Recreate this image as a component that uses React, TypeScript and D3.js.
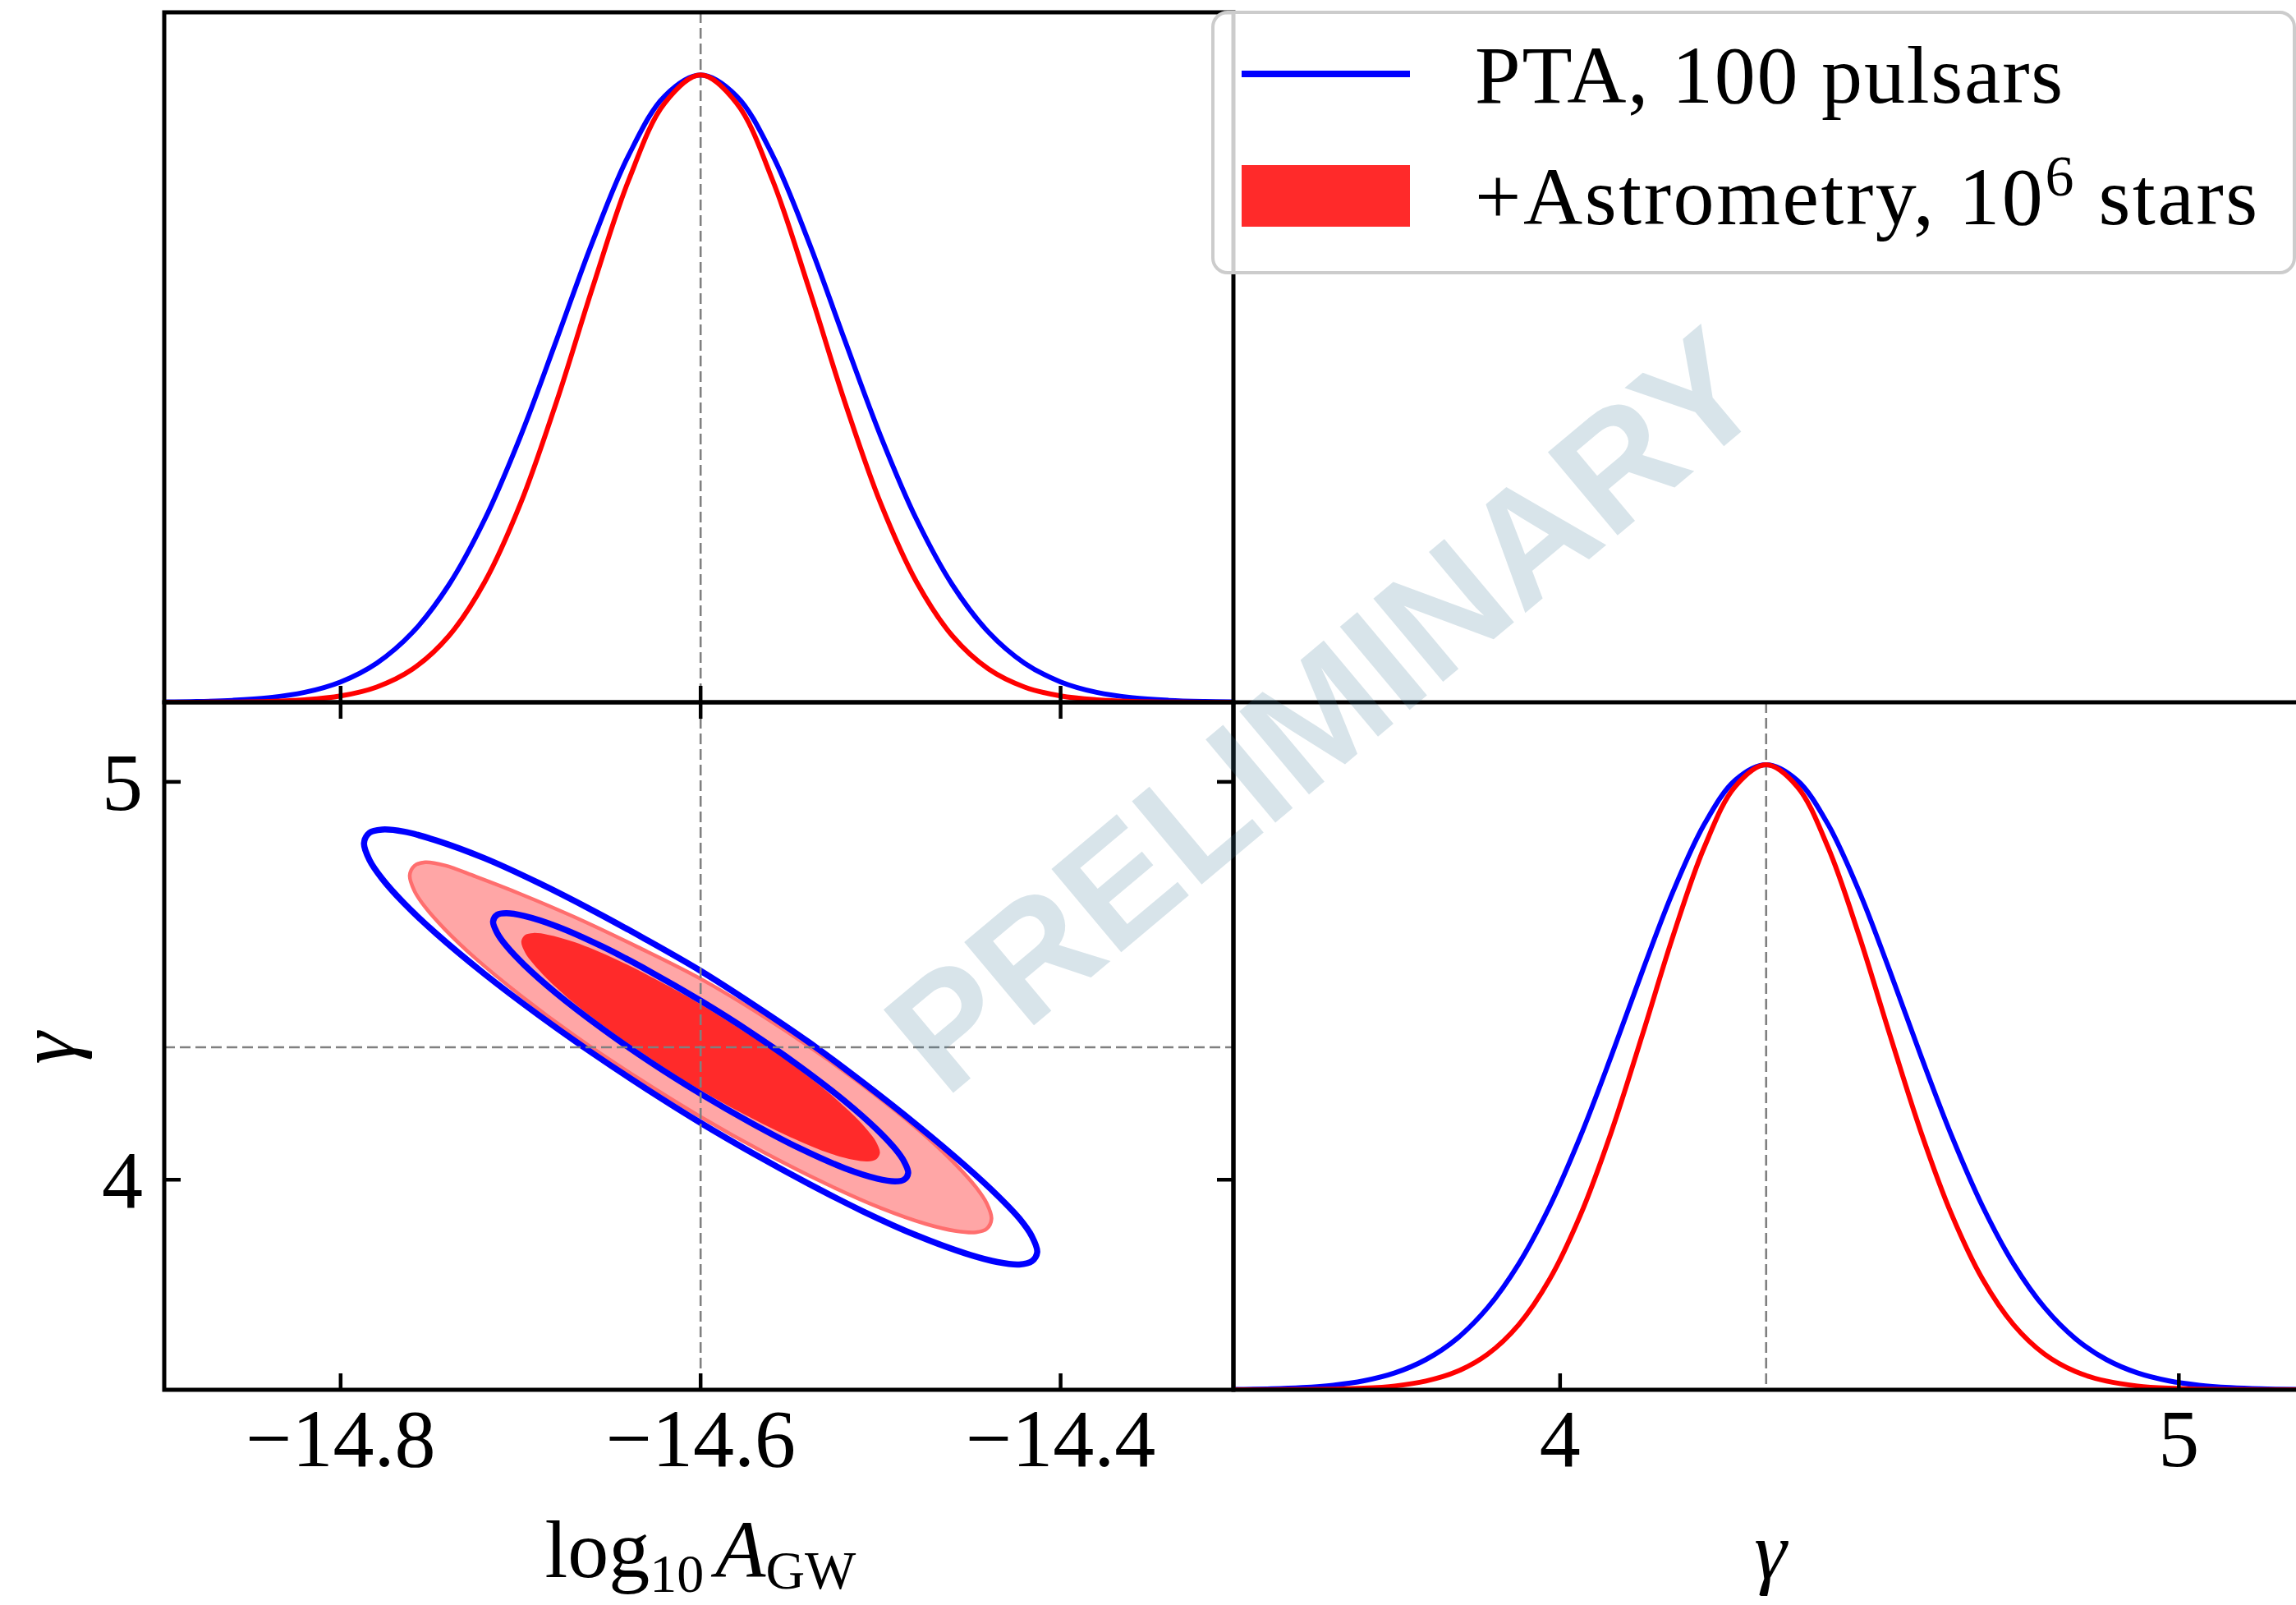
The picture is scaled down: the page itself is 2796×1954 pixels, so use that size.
import React from "react";
import * as d3 from "d3";

// ---------- data ----------
const logAExtent: [number, number] = [-14.898, -14.304];
const gammaExtent: [number, number] = [3.472, 5.2];
const densityExtent: [number, number] = [0, 1.1];
const logATicks = [-14.8, -14.6, -14.4];
const gammaTicks = [4, 5];
const truthLogA = -14.6;
const truthGamma = 4.333;
const legendPTA = "PTA, 100 pulsars";
const legendAstro = ["+Astrometry, 10", "6", " stars"];
const watermark = "PRELIMINARY";

// 1D marginal of log10 A_GW: [value, normalised density]
const ptaLogA: [number, number][] = [
  [-14.898, 0.0005], [-14.88, 0.0012], [-14.86, 0.0031], [-14.84, 0.0072], [-14.82, 0.0158],
  [-14.8, 0.0325], [-14.78, 0.0623], [-14.76, 0.1116], [-14.74, 0.1866], [-14.72, 0.2913],
  [-14.7, 0.4246], [-14.68, 0.578], [-14.66, 0.7346], [-14.64, 0.872], [-14.62, 0.9663],
  [-14.6, 1.0],
  [-14.58, 0.9663], [-14.56, 0.872], [-14.54, 0.7346], [-14.52, 0.578], [-14.5, 0.4246],
  [-14.48, 0.2913], [-14.46, 0.1866], [-14.44, 0.1116], [-14.42, 0.0623], [-14.4, 0.0325],
  [-14.38, 0.0158], [-14.36, 0.0072], [-14.34, 0.0031], [-14.32, 0.0012], [-14.304, 0.0005],
];
const astroLogA: [number, number][] = [
  [-14.898, 0.0], [-14.88, 0.0001], [-14.86, 0.0004], [-14.84, 0.0013], [-14.82, 0.0039],
  [-14.8, 0.0101], [-14.78, 0.0243], [-14.76, 0.053], [-14.74, 0.1054], [-14.72, 0.1915],
  [-14.7, 0.3173], [-14.68, 0.4797], [-14.66, 0.6615], [-14.64, 0.8322], [-14.62, 0.9551],
  [-14.6, 1.0],
  [-14.58, 0.9551], [-14.56, 0.8322], [-14.54, 0.6615], [-14.52, 0.4797], [-14.5, 0.3173],
  [-14.48, 0.1915], [-14.46, 0.1054], [-14.44, 0.053], [-14.42, 0.0243], [-14.4, 0.0101],
  [-14.38, 0.0039], [-14.36, 0.0013], [-14.34, 0.0004], [-14.32, 0.0001], [-14.304, 0.0],
];
// 1D marginal of gamma
const ptaGamma: [number, number][] = [
  [3.472, 0.0006], [3.533, 0.0016], [3.583, 0.0036], [3.633, 0.0074], [3.683, 0.0145],
  [3.733, 0.0271], [3.783, 0.0483], [3.833, 0.0817], [3.883, 0.1315], [3.933, 0.2013],
  [3.983, 0.2931], [4.033, 0.4059], [4.083, 0.5347], [4.133, 0.6698], [4.183, 0.7982],
  [4.233, 0.9047], [4.283, 0.9753], [4.333, 1.0],
  [4.383, 0.9753], [4.433, 0.9047], [4.483, 0.7982], [4.533, 0.6698], [4.583, 0.5347],
  [4.633, 0.4059], [4.683, 0.2931], [4.733, 0.2013], [4.783, 0.1315], [4.833, 0.0817],
  [4.883, 0.0483], [4.933, 0.0271], [4.983, 0.0145], [5.033, 0.0074], [5.083, 0.0036],
  [5.133, 0.0016], [5.2, 0.0005],
];
const astroGamma: [number, number][] = [
  [3.472, 0.0], [3.533, 0.0001], [3.583, 0.0004], [3.633, 0.001], [3.683, 0.0025],
  [3.733, 0.0061], [3.783, 0.0139], [3.833, 0.0291], [3.883, 0.057], [3.933, 0.104],
  [3.983, 0.1767], [4.033, 0.28], [4.083, 0.4131], [4.133, 0.5679], [4.183, 0.7274],
  [4.233, 0.868], [4.283, 0.9653], [4.333, 1.0],
  [4.383, 0.9653], [4.433, 0.868], [4.483, 0.7274], [4.533, 0.5679], [4.583, 0.4131],
  [4.633, 0.28], [4.683, 0.1767], [4.733, 0.104], [4.783, 0.057], [4.833, 0.0291],
  [4.883, 0.0139], [4.933, 0.0061], [4.983, 0.0025], [5.033, 0.001], [5.083, 0.0004],
  [5.133, 0.0001], [5.2, 0.0],
];

// 2D contours: [log10 A_GW, gamma]
const ptaOuter: [number, number][] = [
  [-14.787, 4.846], [-14.784, 4.872], [-14.777, 4.88], [-14.765, 4.875], [-14.747, 4.853],
  [-14.72, 4.808], [-14.69, 4.746], [-14.66, 4.677], [-14.63, 4.603], [-14.6, 4.525],
  [-14.57, 4.438], [-14.54, 4.346], [-14.51, 4.245], [-14.48, 4.138], [-14.453, 4.035],
  [-14.435, 3.96], [-14.423, 3.903], [-14.416, 3.858], [-14.413, 3.818],
  [-14.416, 3.795], [-14.423, 3.787], [-14.435, 3.793], [-14.453, 3.815], [-14.48, 3.86],
  [-14.51, 3.921], [-14.54, 3.99], [-14.57, 4.064], [-14.6, 4.143], [-14.63, 4.228],
  [-14.66, 4.318], [-14.69, 4.414], [-14.72, 4.517], [-14.747, 4.619], [-14.765, 4.696],
  [-14.777, 4.757], [-14.784, 4.804],
];
const ptaInner: [number, number][] = [
  [-14.7153, 4.649], [-14.713, 4.666], [-14.708, 4.67], [-14.698, 4.663], [-14.68, 4.637],
  [-14.655, 4.587], [-14.628, 4.523], [-14.6, 4.45], [-14.572, 4.37], [-14.545, 4.285],
  [-14.52, 4.198], [-14.502, 4.126], [-14.492, 4.078], [-14.487, 4.046], [-14.4847, 4.017],
  [-14.487, 4.0], [-14.492, 3.996], [-14.502, 4.003], [-14.52, 4.029], [-14.545, 4.079],
  [-14.572, 4.143], [-14.6, 4.216], [-14.628, 4.296], [-14.655, 4.381], [-14.68, 4.468],
  [-14.698, 4.54], [-14.708, 4.588], [-14.713, 4.62],
];
const astroOuter: [number, number][] = [
  [-14.7616, 4.765], [-14.759, 4.789], [-14.753, 4.798], [-14.742, 4.79], [-14.725, 4.762],
  [-14.7, 4.718], [-14.67, 4.66], [-14.635, 4.585], [-14.6, 4.505], [-14.565, 4.41],
  [-14.53, 4.304], [-14.5, 4.203], [-14.475, 4.11], [-14.458, 4.037], [-14.447, 3.981],
  [-14.441, 3.94], [-14.4384, 3.902], [-14.441, 3.877], [-14.447, 3.868], [-14.458, 3.871],
  [-14.475, 3.889], [-14.5, 3.929], [-14.53, 3.989], [-14.565, 4.069], [-14.6, 4.158],
  [-14.635, 4.256], [-14.67, 4.362], [-14.7, 4.463], [-14.725, 4.556], [-14.742, 4.629],
  [-14.753, 4.685], [-14.759, 4.726],
];
const astroInner: [number, number][] = [
  [-14.6996, 4.599], [-14.6975, 4.615], [-14.693, 4.62], [-14.685, 4.616], [-14.67, 4.597],
  [-14.647, 4.554], [-14.623, 4.499], [-14.6, 4.441], [-14.577, 4.376], [-14.553, 4.303],
  [-14.53, 4.223], [-14.515, 4.162], [-14.507, 4.123], [-14.5025, 4.095], [-14.5004, 4.067],
  [-14.5025, 4.051], [-14.507, 4.046], [-14.515, 4.05], [-14.53, 4.069], [-14.553, 4.113],
  [-14.577, 4.167], [-14.6, 4.225], [-14.623, 4.29], [-14.647, 4.364], [-14.67, 4.443],
  [-14.685, 4.504], [-14.693, 4.543], [-14.6975, 4.571],
];

// ---------- layout ----------
const W = 2796;
const H = 1954;
const L = 200, M = 1502, R = 2804, T = 15, MID = 855, B = 1692;
const BLUE = "#0000ff";
const RED = "#ff0000";
const RED_DARK = "#ff2a2a";
const RED_LIGHT = "#ffa6a6";
const RED_EDGE = "#ff6e6e";
const SERIF = "'Liberation Serif', 'Times New Roman', serif";
const TICK = 20;

const xA = d3.scaleLinear().domain(logAExtent).range([L, M]);
const xG = d3.scaleLinear().domain(gammaExtent).range([M, R]);
const yG = d3.scaleLinear().domain(gammaExtent).range([B, MID]);
const yTop = d3.scaleLinear().domain(densityExtent).range([MID, T]);
const yBot = d3.scaleLinear().domain(densityExtent).range([B, MID]);

const lineTop = d3
  .line<[number, number]>()
  .x((d) => xA(d[0]))
  .y((d) => yTop(d[1]))
  .curve(d3.curveCatmullRom.alpha(0.5));
const lineBot = d3
  .line<[number, number]>()
  .x((d) => xG(d[0]))
  .y((d) => yBot(d[1]))
  .curve(d3.curveCatmullRom.alpha(0.5));
const contour = d3
  .line<[number, number]>()
  .x((d) => xA(d[0]))
  .y((d) => yG(d[1]))
  .curve(d3.curveCatmullRomClosed.alpha(0.5));

const fmt = (v: number) => (v < 0 ? "\u2212" + Math.abs(v).toFixed(1) : String(v));

export default function App() {
  const dash = { stroke: "#808080", strokeWidth: 2.6, strokeDasharray: "13 6", fill: "none" };
  const spine = { stroke: "#000", strokeWidth: 5, fill: "none" };
  const tick = { stroke: "#000", strokeWidth: 4.5 };
  return (
    <svg
      width={W}
      height={H}
      viewBox={`0 0 ${W} ${H}`}
      style={{ position: "absolute", left: 0, top: 0, background: "#fff" }}
    >
      <defs>
        <clipPath id="clipTL">
          <rect x={L} y={T} width={M - L} height={MID - T} />
        </clipPath>
        <clipPath id="clipBL">
          <rect x={L} y={MID} width={M - L} height={B - MID} />
        </clipPath>
        <clipPath id="clipBR">
          <rect x={M} y={MID} width={R - M} height={B - MID} />
        </clipPath>
      </defs>
      <rect x={0} y={0} width={W} height={H} fill="#fff" />

      {/* ---------- top-left: log10 A marginal ---------- */}
      <g clipPath="url(#clipTL)">
        <line x1={xA(truthLogA)} x2={xA(truthLogA)} y1={T} y2={MID} {...dash} />
        <path d={lineTop(ptaLogA) || ""} fill="none" stroke={BLUE} strokeWidth={6} />
        <path d={lineTop(astroLogA) || ""} fill="none" stroke={RED} strokeWidth={6} />
      </g>
      {logATicks.map((t) => (
        <line key={"tlb" + t} x1={xA(t)} x2={xA(t)} y1={MID} y2={MID - TICK} {...tick} />
      ))}
      <rect x={L} y={T} width={M - L} height={MID - T} {...spine} />

      {/* ---------- bottom-left: 2D contours ---------- */}
      <g clipPath="url(#clipBL)">
        <path d={contour(astroOuter) || ""} fill={RED_LIGHT} stroke={RED_EDGE} strokeWidth={4.5} />
        <path d={contour(astroInner) || ""} fill={RED_DARK} stroke="none" />
        <path d={contour(ptaOuter) || ""} fill="none" stroke={BLUE} strokeWidth={7.5} />
        <path d={contour(ptaInner) || ""} fill="none" stroke={BLUE} strokeWidth={7.5} />
        <line x1={xA(truthLogA)} x2={xA(truthLogA)} y1={MID} y2={B} {...dash} />
        <line x1={L} x2={M} y1={yG(truthGamma)} y2={yG(truthGamma)} {...dash} />
      </g>
      {logATicks.map((t) => (
        <g key={"blx" + t}>
          <line x1={xA(t)} x2={xA(t)} y1={B} y2={B - TICK} {...tick} />
          <line x1={xA(t)} x2={xA(t)} y1={MID} y2={MID + TICK} {...tick} />
          <text
            x={xA(t)}
            y={1785}
            textAnchor="middle"
            fontFamily={SERIF}
            fontSize={100}
            fill="#000"
          >
            {fmt(t)}
          </text>
        </g>
      ))}
      {gammaTicks.map((t) => (
        <g key={"bly" + t}>
          <line x1={L} x2={L + TICK} y1={yG(t)} y2={yG(t)} {...tick} />
          <line x1={M} x2={M - TICK} y1={yG(t)} y2={yG(t)} {...tick} />
          <text
            x={174}
            y={yG(t) + 34}
            textAnchor="end"
            fontFamily={SERIF}
            fontSize={100}
            fill="#000"
          >
            {fmt(t)}
          </text>
        </g>
      ))}
      <rect x={L} y={MID} width={M - L} height={B - MID} {...spine} />

      {/* ---------- bottom-right: gamma marginal ---------- */}
      <g clipPath="url(#clipBR)">
        <line x1={xG(truthGamma)} x2={xG(truthGamma)} y1={MID} y2={B} {...dash} />
        <path d={lineBot(ptaGamma) || ""} fill="none" stroke={BLUE} strokeWidth={6} />
        <path d={lineBot(astroGamma) || ""} fill="none" stroke={RED} strokeWidth={6} />
      </g>
      {gammaTicks.map((t) => (
        <g key={"brx" + t}>
          <line x1={xG(t)} x2={xG(t)} y1={B} y2={B - TICK} {...tick} />
          <text
            x={xG(t)}
            y={1785}
            textAnchor="middle"
            fontFamily={SERIF}
            fontSize={100}
            fill="#000"
          >
            {fmt(t)}
          </text>
        </g>
      ))}
      <rect x={M} y={MID} width={R - M} height={B - MID} {...spine} />

      {/* ---------- axis labels ---------- */}
      <text x={853} y={1920} textAnchor="middle" fontFamily={SERIF} fontSize={100} fill="#000">
        <tspan>log</tspan>
        <tspan fontSize={66} dy={18}>10</tspan>
        <tspan dy={-18} dx={14} fontStyle="italic">A</tspan>
        <tspan fontSize={66} dy={14}>GW</tspan>
      </text>
      <text
        x={2156}
        y={1922}
        textAnchor="middle"
        fontFamily={SERIF}
        fontSize={100}
        fontStyle="italic"
        fill="#000"
      >
        γ
      </text>
      <text
        transform="translate(91,1276) rotate(-90)"
        textAnchor="middle"
        fontFamily={SERIF}
        fontSize={100}
        fontStyle="italic"
        fill="#000"
      >
        γ
      </text>

      {/* ---------- legend ---------- */}
      <g>
        <rect
          x={1477}
          y={15}
          width={1317}
          height={317}
          rx={18}
          ry={18}
          fill="#fff"
          fillOpacity={0.8}
          stroke="#cccccc"
          strokeWidth={4}
        />
        <line x1={1512} x2={1717} y1={90} y2={90} stroke={BLUE} strokeWidth={8} />
        <rect x={1512} y={201} width={205} height={75} fill={RED_DARK} />
        <text x={1796} y={125} fontFamily={SERIF} fontSize={100} letterSpacing={1.8} fill="#000">
          {legendPTA}
        </text>
        <text x={1796} y={273} fontFamily={SERIF} fontSize={100} letterSpacing={2.6} fill="#000">
          <tspan>{legendAstro[0]}</tspan>
          <tspan fontSize={70} dy={-35}>{legendAstro[1]}</tspan>
          <tspan dy={35}>{legendAstro[2]}</tspan>
        </text>
      </g>

      {/* ---------- watermark ---------- */}
      <text
        transform="translate(1655,916) rotate(-40)"
        textAnchor="middle"
        fontFamily="'Liberation Sans', Arial, sans-serif"
        fontWeight="bold"
        fontSize={192}
        fill="rgb(62,118,152)"
        fillOpacity={0.2}
      >
        {watermark}
      </text>
    </svg>
  );
}
